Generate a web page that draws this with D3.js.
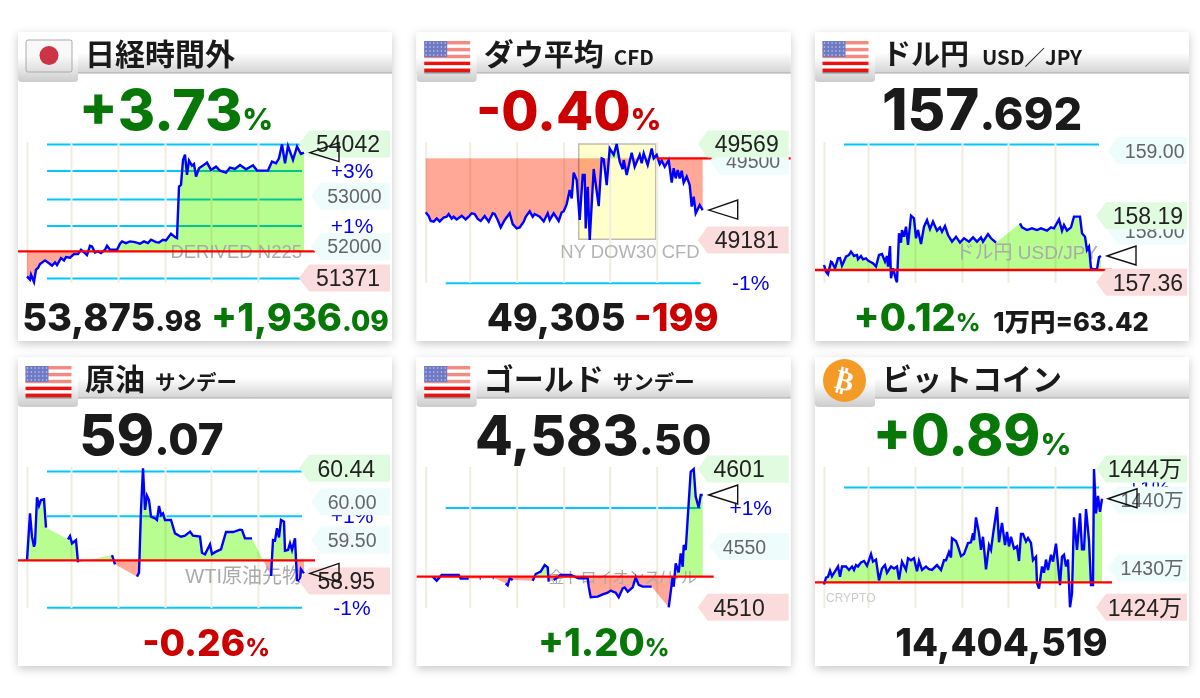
<!DOCTYPE html>
<html>
<head>
<meta charset="utf-8">
<script src="https://cdn.jsdelivr.net/npm/d3@7"></script>
<style>
  body { margin: 0; background: #fff; }
  svg { display: block; }
  text { font-family: "Liberation Sans", sans-serif; }
  .title { font-family: "Noto Sans CJK JP"; font-weight: 700; fill: #1a1a1a; }
  .big { font-family: "Inter", "Noto Sans CJK JP"; font-weight: 800; }
</style>
</head>
<body>
<svg id="chart" width="1200" height="698"></svg>
<script>
// x is the bar number on the 276 bar day, null value = no trade (line breaks there)
const gridBars = [0, 44, 91, 138, 184, 231];

// nikkei
const nikkeiBars = [0,3,4,7,9,11,13,18,23,25,28,30,34,37,39,43,47,51,54,56,60,63,65,68,71,74,78,80,83,87,90,93,95,99,103,108,113,117,121,124,129,132,136,139,144,148,150,152,154,156,158,160,162,165,167,169,172,176,180,184,189,193,199,203,208,213,219,226,230,236,241,245,249,252,255,258,261,266,270,274,277];
const nikkeiValues = [51404,51338,51437,51291,51537,51570,51649,51722,51649,51616,51683,51629,51769,51722,51789,51775,51848,51848,51934,51901,51828,52014,52001,51881,51901,51868,51934,52014,51934,51934,51934,52054,52100,52067,52100,52087,52054,52100,52067,52133,52087,52080,52133,52120,52253,52186,52166,53194,53227,53724,53830,53426,53711,53611,53644,53393,53558,53611,53671,53525,53591,53512,53472,53571,53545,53624,53538,53618,53512,53512,53512,53691,53658,53757,54035,53658,54002,53724,53989,53843,53870];
const nikkeiGrid = [54042,53512,52948,52418,51371];

// dow
const dowBars = [0,3,5,8,11,14,18,21,23,26,28,31,36,40,43,46,49,52,55,59,63,67,69,72,75,79,84,87,91,94,98,100,104,107,109,114,118,122,124,128,133,136,138,141,144,146,148,151,154,157,159,160,162,164,168,173,176,178,181,184,188,191,194,197,198,201,206,209,214,216,218,222,226,228,231,234,236,239,243,246,248,250,252,254,256,258,261,264,266,268,270,274,277];
const dowValues = [49293,49278,49258,49255,49268,49256,49272,49275,49286,49267,49275,49264,49279,49264,49275,49289,49286,49266,49258,49278,49255,49289,49286,49262,49232,49262,49289,49245,49228,49232,49255,49275,49297,49275,49286,49275,49256,49289,49262,49289,49258,49293,49297,49326,49383,49349,49453,49423,49262,49444,49444,49228,49396,49181,49468,49318,49511,49507,49403,49551,49525,49569,49498,49467,49504,49444,49534,49477,49525,49491,49531,49484,49551,49511,49525,49488,49502,49477,49504,49413,49471,49430,49464,49430,49461,49413,49437,49403,49316,49356,49289,49322,49302];
const dowGrid = [49008];
const dowSessionBars = [153, 230];
const dowSessionValues = [49184, 49569];

// usd/jpy
const usdBars = [0,2,4,7,8,11,14,16,18,22,25,27,30,33,34,37,39,42,44,47,49,52,55,58,61,63,64,66,67,69,72,73,75,77,78,80,82,84,87,90,92,94,97,100,103,106,109,113,116,118,121,124,128,132,136,140,145,149,153,157,159,164,167,172,184,196,198,203,208,213,217,223,227,230,235,238,240,243,247,250,256,258,261,263,265,267,270,273,275,277];
const usdValues = [157.577,157.495,157.462,157.619,157.611,157.536,157.660,157.664,157.569,157.681,157.702,157.743,157.689,157.702,157.648,157.689,157.648,157.660,157.631,157.611,157.598,157.557,157.702,157.714,157.619,157.689,157.557,157.813,157.412,157.536,157.391,157.362,157.971,157.855,158.012,157.929,158.053,157.826,158.190,158.157,157.909,158.012,157.838,158.053,158.136,158.024,158.116,158.004,158.045,157.991,158.062,157.950,157.867,157.929,157.855,157.909,157.867,157.921,157.867,157.921,157.867,157.962,157.909,157.855,null,158.095,158.045,158.012,158.033,158.012,158.033,158.004,158.045,158.033,158.144,158.004,158.074,158.004,158.045,158.178,158.178,157.971,157.929,157.764,157.805,157.536,157.524,157.524,157.673,157.689];
const usdGrid = [159.08];

// wti
const wtiBars = [0,3,5,7,8,10,12,14,17,19,30,41,43,45,47,49,51,68,85,88,99,110,112,114,116,118,120,122,124,128,130,132,134,136,138,144,148,154,158,163,166,173,175,178,183,185,189,194,199,206,213,215,218,225,235,244,246,248,250,252,254,257,258,261,263,265,268,270,273,274,277];
const wtiValues = [59.236,59.849,59.542,59.411,59.455,60.059,59.949,60.024,60.033,59.660,null,59.507,59.551,59.455,59.476,59.498,59.205,null,59.301,59.179,null,59.017,59.069,59.893,60.44,59.893,60.081,60.024,59.805,59.783,59.761,59.945,59.827,59.849,59.761,59.761,59.586,59.542,59.555,59.608,59.555,59.542,59.332,59.310,59.441,59.314,59.345,59.376,59.603,59.603,59.634,59.630,59.520,59.520,null,59.025,59.498,59.490,59.652,59.533,59.761,59.739,59.358,59.367,59.455,59.367,59.520,58.973,58.960,59.113,59.060];
const wtiGrid = [60.405,59.818,58.614];

// gold
const goldBars = [7,11,16,33,35,43,48,54,55,60,67,68,74,80,82,84,87,97,107,110,115,119,122,123,125,128,135,145,153,162,163,165,172,177,182,185,190,193,197,199,202,207,210,213,217,226,235,243,247,248,250,253,255,257,258,260,262,265,268,270,273,275,277];
const goldValues = [4530.2,4527.5,4531.3,4531.3,4528.9,4528.9,null,4528.9,4528.9,null,4529.3,4529.3,null,4525.8,4524.5,4529.1,4528,null,4527.5,4531.9,4533.5,4537.8,4536.3,4526.9,null,4528,4531.3,4531.3,4529.1,4529.1,4523.6,4516.6,4517,4518.5,4519.6,4521,4519.6,4516.6,4522.5,4523.1,4520.3,4523.1,4529.7,4524.7,4523.6,4523.6,null,4510,4530.2,4523.6,4538.9,4533,4545.5,4536.7,4551,4547.7,4568.5,4599.2,4601,4582.8,4575.6,4583.9,4583.9];
const goldGrid = [4575.6];

// bitcoin, in man-yen
const btcBars = [0,2,4,6,8,11,14,16,18,22,25,28,30,32,34,37,40,43,47,49,52,55,58,61,63,67,70,73,75,78,82,84,87,90,93,95,98,102,105,108,113,117,120,122,125,127,128,132,134,137,140,144,147,149,150,152,155,157,159,162,165,167,169,173,175,178,181,183,185,187,190,193,195,197,199,202,204,207,209,212,213,215,218,220,222,224,227,229,232,236,238,240,242,244,246,248,250,253,256,258,260,262,265,267,269,270,272,274,276,278];
const btcValues = [1427.3,1428.3,1428.4,1429.3,1428.5,1429.2,1429.9,1428.4,1429.9,1429.9,1429.4,1429.9,1429.4,1430.1,1429.9,1430.5,1430.7,1430,1431.7,1430.6,1430.9,1427.9,1429.6,1430.1,1429,1429.9,1429.6,1429.9,1428,1430.6,1429.4,1431.1,1430.8,1431.1,1429.2,1430.7,1429.4,1429.9,1429.5,1429.4,1430.1,1429.4,1430.8,1430.8,1432,1431.2,1434,1433.6,1432.8,1431.4,1431.7,1433.3,1433.4,1434.7,1433.7,1437,1434.7,1432.3,1434.2,1429.5,1433,1432.3,1434.5,1438.5,1433.4,1436.2,1433,1434.9,1432.8,1434.2,1432.5,1432.8,1430.7,1434.6,1434.6,1433.5,1434,1433.3,1430.8,1431.3,1427.5,1426.7,1429.9,1429,1430.9,1429.4,1431.6,1430.6,1433.2,1427.2,1431.3,1431.6,1429.9,1430.9,1424,1426,1437,1432.3,1437.6,1432.4,1432.4,1438.2,1433.7,1427.2,1427.2,1444,1437.6,1440.1,1437.8,1439.7];
const btcGrid = [1441.4];

const cardW = 374, cardH = 309;
const green = "#077807", red = "#cc0000", black = "#1a1a1a";

// one entry per card. labels are [value, text, kind]
const panels = [
  { col: 18, row: 32, title: "日経時間外", titleSize: 30, sub: "", flag: "jp", subX: 0,
    bars: nikkeiBars, values: nikkeiValues, grid: nikkeiGrid, base: 51901, lo: 51371, hi: 54042, yLo: 246, yHi: 112,
    labels: [[53000,"53000","mid"],[52000,"52000","mid"],[54042,"54042","hi"],[51371,"51371","lo"]], textRight: 362,
    pcts: [[53512,"+3%"],[52418,"+1%"]],
    mark: { text: "DERIVED N225", anchor: "end", x: 284, y: 220, size: 18.5, color: "#aaa" },
    head: { cx: 158, parts: [["+3.73",57,green],["%",30,green]] },
    foot: [{ cx: 94, parts: [["53,875",38,black],[".98",28,black]] }, { cx: 282, parts: [["+1,936",38,green],[".09",28,green]] }] },
  { col: 416.7, row: 32, title: "ダウ平均", titleSize: 30, sub: "CFD", flag: "us", subX: 197,
    bars: dowBars, values: dowValues, grid: dowGrid, base: 49511, lo: 49181, hi: 49569, yLo: 208, yHi: 112, redFrom: 240, redTo: 374,
    labels: [[49500,"49500","mid"],[49569,"49569","hi"],[49181,"49181","lo"]], textRight: 362,
    pcts: [[49008,"-1%"]],
    mark: { text: "NY DOW30 CFD", anchor: "end", x: 283, y: 220, size: 18.5, color: "#b4b4b4" },
    head: { cx: 152, parts: [["-0.40",54,red],["%",30,red]] },
    foot: [{ cx: 186, parts: [["49,305 ",38,black],["-199",38,red]] }] },
  { col: 815, row: 32, title: "ドル円", titleSize: 29, sub: "USD／JPY", flag: "us", subX: 167,
    bars: usdBars, values: usdValues, grid: usdGrid, base: 157.515, lo: 157.362, hi: 158.19, yLo: 250.3, yHi: 183.7,
    labels: [[159,"159.00","mid"],[158,"158.00","mid"],[158.19,"158.19","hi"],[157.362,"157.36","lo"]], textRight: 368,
    pcts: [[159.08,"+1%"]],
    mark: { text: "ドル円 USD/JPY", anchor: "end", x: 283, y: 220, size: 19, color: "#aaa" },
    head: { cx: 167, parts: [["157",58,black],[".692",45,black]] },
    foot: [{ cx: 102, parts: [["+0.12",38,green],["%",24,green]] }, { cx: 256, parts: [["1万円=63.42",25.5,black]] }] },
  { col: 18, row: 357, title: "原油", titleSize: 30, sub: "サンデー", flag: "us", subX: 137,
    bars: wtiBars, values: wtiValues, grid: wtiGrid, base: 59.231, lo: 58.96, hi: 60.44, yLo: 224, yHi: 111.3,
    labels: [[60,"60.00","mid"],[59.5,"59.50","mid"],[60.44,"60.44","hi"],[58.96,"58.95","lo"]], textRight: 357,
    pcts: [[59.818,"+1%"],[58.614,"-1%"]],
    mark: { text: "WTI原油先物", anchor: "end", x: 284, y: 219, size: 20, color: "#aaa" },
    head: { cx: 133.5, parts: [["59",57,black],[".07",44,black]] },
    foot: [{ cx: 188, parts: [["-0.26",37,red],["%",24,red]] }] },
  { col: 416.7, row: 357, title: "ゴールド", titleSize: 30, sub: "サンデー", flag: "us", subX: 196,
    bars: goldBars, values: goldValues, grid: goldGrid, base: 4530.2, lo: 4510, hi: 4601, yLo: 250.3, yHi: 112,
    labels: [[4550,"4550","mid"],[4601,"4601","hi"],[4510,"4510","lo"]], textRight: 348,
    pcts: [[4575.6,"+1%"]],
    mark: { text: "金トロイオンス/ドル", anchor: "end", x: 280, y: 220, size: 16, color: "#aaa" },
    head: { cx: 176.5, parts: [["4,583",55,black],[".50",43,black]] },
    foot: [{ cx: 187, parts: [["+1.20",38,green],["%",24,green]] }] },
  { col: 815, row: 357, title: "ビットコイン", titleSize: 30, sub: "", flag: "btc", subX: 0,
    bars: btcBars, values: btcValues, grid: btcGrid, base: 1427.6, lo: 1424, hi: 1444, yLo: 250.3, yHi: 112,
    labels: [[1439.5,"1440万","mid"],[1429.7,"1430万","mid"],[1444,"1444万","hi"],[1424,"1424万","lo"]], textRight: 367,
    pcts: [[1441.4,"+1%"]],
    mark: { text: "CRYPTO", anchor: "start", x: 11, y: 241, size: 12, color: "#ccc" },
    head: { cx: 157, parts: [["+0.89",56,green],["%",30,green]] },
    foot: [{ cx: 186.5, parts: [["14,404,519",38,black]] }] }
];

const svg = d3.select("#chart");
const defs = svg.append("defs");

// card shadow
const shadow = defs.append("filter").attr("id", "shadow").attr("x", "-10%").attr("y", "-10%").attr("width", "120%").attr("height", "125%");
shadow.append("feDropShadow").attr("dx", 0).attr("dy", 3).attr("stdDeviation", 5).attr("flood-color", "#000").attr("flood-opacity", 0.22);

function addGradient(id, top, bottom) {
  const g = defs.append("linearGradient").attr("id", id).attr("x1", 0).attr("x2", 0).attr("y1", 0).attr("y2", 1);
  g.append("stop").attr("offset", "0%").attr("stop-color", top);
  g.append("stop").attr("offset", "50%").attr("stop-color", top);
  g.append("stop").attr("offset", "100%").attr("stop-color", bottom);
}
addGradient("headGrad", "#ffffff", "#d4d4d4");
addGradient("tabGrad", "#ffffff", "#cccccc");
addGradient("btnGrad", "#f8f8f8", "#dddddd");

function drawFlag(g, kind) {
  if (kind === "btc") {
    g.append("circle").attr("cx", 29.5).attr("cy", 23.5).attr("r", 21.5).attr("fill", "#f49a26");
    g.append("text").attr("x", 29.5).attr("y", 33).attr("text-anchor", "middle")
      .attr("transform", "rotate(14 29.5 23.5)")
      .style("font-family", "DejaVu Sans").style("font-weight", 700).style("font-size", "28px").attr("fill", "#fff").text("₿");
    return;
  }
  if (kind === "jp") {
    g.append("rect").attr("x", 8).attr("y", 8).attr("width", 46).attr("height", 32).attr("rx", 2)
      .attr("fill", "url(#btnGrad)").attr("stroke", "#aaa");
    g.append("circle").attr("cx", 31).attr("cy", 23.5).attr("r", 9.5).attr("fill", "#cc3344");
    return;
  }
  // stars and stripes, 9 bands are what shows at this size
  const x = 7.5, y = 9, w = 46, h = 31;
  g.append("rect").attr("x", x).attr("y", y).attr("width", w).attr("height", h).attr("fill", "#fff");
  d3.range(0, 9, 2).forEach(i => {
    g.append("rect").attr("x", x).attr("y", y + i * h / 9).attr("width", w).attr("height", h / 9)
      .attr("fill", i > 4 ? "#ee1111" : "#f58a80");
  });
  g.append("rect").attr("x", x).attr("y", y).attr("width", 23).attr("height", 16).attr("fill", "#6f7ac4");
  d3.range(4).forEach(r => d3.range(6).forEach(c => {
    g.append("circle").attr("cx", x + 2 + c * 3.8).attr("cy", y + 2 + r * 4).attr("r", 0.8).attr("fill", "#c8cdf0");
  }));
  g.append("rect").attr("x", x).attr("y", y + h).attr("width", w).attr("height", 1.5).attr("fill", "#888");
}

function drawTextParts(g, spec, y) {
  const t = g.append("text").attr("class", "big").attr("x", spec.cx).attr("y", y).attr("text-anchor", "middle");
  spec.parts.forEach(p => {
    t.append("tspan").style("font-size", p[1] + "px").attr("fill", p[2]).text(p[0]);
  });
}

panels.forEach((p, idx) => {
  const card = svg.append("g").attr("transform", `translate(${p.col},${p.row})`);

  card.append("rect").attr("width", cardW).attr("height", cardH).attr("fill", "#fff").attr("filter", "url(#shadow)");

  // header band and flag tab
  card.append("rect").attr("width", cardW).attr("height", 41).attr("fill", "url(#headGrad)");
  card.append("line").attr("x1", 0).attr("x2", cardW).attr("y1", 41).attr("y2", 41).attr("stroke", "#aaa").attr("stroke-width", 1.2);
  card.append("path").attr("d", "M0 0H60V47Q60 50 56 50H4Q0 50 0 47Z").attr("fill", "url(#tabGrad)");
  drawFlag(card, p.flag);

  card.append("text").attr("class", "title").attr("x", 67).attr("y", 33).style("font-size", p.titleSize + "px").text(p.title);
  if (p.sub) {
    card.append("text").attr("class", "title").attr("x", p.subX).attr("y", 33).style("font-size", "20.5px").text(p.sub);
  }

  const x = d3.scaleLinear().domain([0, 276]).range([9, 285]);
  const y = d3.scaleLinear().domain([p.lo, p.hi]).range([p.yLo, p.yHi]);
  const rows = p.bars.map((b, i) => ({ bar: b, value: p.values[i] }));
  const traded = rows.filter(d => d.value !== null);
  const last = traded[traded.length - 1];

  // session box on the dow card
  if (p === panels[1]) {
    card.append("rect")
      .attr("x", x(dowSessionBars[0])).attr("y", y(dowSessionValues[1]))
      .attr("width", x(dowSessionBars[1]) - x(dowSessionBars[0]))
      .attr("height", y(dowSessionValues[0]) - y(dowSessionValues[1]))
      .attr("fill", "#ffffcc").attr("stroke", "#bdbdb0").attr("stroke-width", 1.5);
  }

  // price levels
  const levelAxis = d3.axisLeft(y).tickValues(p.grid).tickFormat("").tickSize(-(x(275) - x(20)));
  const levels = card.append("g").attr("transform", `translate(${x(20)},0)`).call(levelAxis);
  levels.select(".domain").remove();
  levels.selectAll("line").attr("stroke", "#00c8ff").attr("stroke-width", 2);

  // time grid
  const topY = 110, botY = 251;
  const timeAxis = d3.axisBottom(x).tickValues(gridBars).tickFormat("").tickSize(-(botY - topY));
  const times = card.append("g").attr("transform", `translate(0,${botY})`).call(timeAxis);
  times.select(".domain").remove();
  times.selectAll("line").attr("stroke", "#f0ede0").attr("stroke-width", 2);

  // fill against the previous close, green above and red below
  const area = d3.area().x(d => x(d.bar)).y0(y(p.base)).y1(d => y(d.value));
  [["up", 0, y(p.base), "#b8fd8f"], ["down", y(p.base), cardH - y(p.base), "#ffa898"]].forEach(c => {
    const id = `clip${idx}${c[0]}`;
    defs.append("clipPath").attr("id", id).append("rect")
      .attr("x", 0).attr("y", c[1]).attr("width", cardW).attr("height", c[2]);
    card.append("path").datum(traded).attr("d", area).attr("fill", c[3])
      .attr("clip-path", `url(#${id})`).style("mix-blend-mode", "multiply");
  });

  // watermark
  card.append("text").attr("x", p.mark.x).attr("y", p.mark.y).attr("dy", "0.35em")
    .attr("text-anchor", p.mark.anchor).style("font-size", p.mark.size + "px").attr("fill", p.mark.color)
    .style("font-family", "'Liberation Sans','Noto Sans CJK JP'").text(p.mark.text);

  // price line
  const line = d3.line().defined(d => d.value !== null).x(d => x(d.bar)).y(d => y(d.value));
  card.append("path").datum(rows).attr("d", line).attr("fill", "none").attr("stroke", "#0000ff").attr("stroke-width", 2.4);

  // previous close
  card.append("line").attr("x1", p.redFrom || 0).attr("x2", p.redTo || 297)
    .attr("y1", y(p.base)).attr("y2", y(p.base)).attr("stroke", "#ff0000").attr("stroke-width", 2.4);

  // percent captions go under the price tags
  p.pcts.forEach(d => {
    card.append("text").attr("x", 334).attr("y", y(d[0])).attr("dy", "0.36em").attr("text-anchor", "middle")
      .style("font-size", "21px").attr("fill", "#0000ee").text(d[1]);
  });

  // price tags
  p.labels.forEach(d => {
    const mid = d[2] === "mid";
    const c = y(d[0]);
    const tip = mid ? 293 : 281, body = mid ? 303 : 291;
    card.append("path")
      .attr("d", `M${tip} ${c}L${body} ${c - 13.5}H372V${c + 13.5}H${body}Z`)
      .attr("fill", d[2] === "hi" ? "#e0fbe0" : d[2] === "lo" ? "#fbdcdc" : "#eefcfc");
    card.append("text").attr("x", p.textRight + (mid ? 1.5 : 0)).attr("y", c).attr("dy", "0.36em").attr("text-anchor", "end")
      .style("font-size", mid ? "19.5px" : "23px").style("font-family", "'Liberation Sans','Noto Sans CJK JP'")
      .attr("fill", mid ? "#666" : "#222").text(d[1]);
  });

  // last price pointer
  const tx = x(last.bar) + 6, ty = y(last.value);
  card.append("path").attr("d", `M${tx} ${ty}L${tx + 29} ${ty - 10}V${ty + 9}Z`)
    .attr("fill", "none").attr("stroke", "#111").attr("stroke-width", 1.4);

  drawTextParts(card, p.head, 98);
  p.foot.forEach(f => drawTextParts(card, f, 299));
});
</script>
</body>
</html>
